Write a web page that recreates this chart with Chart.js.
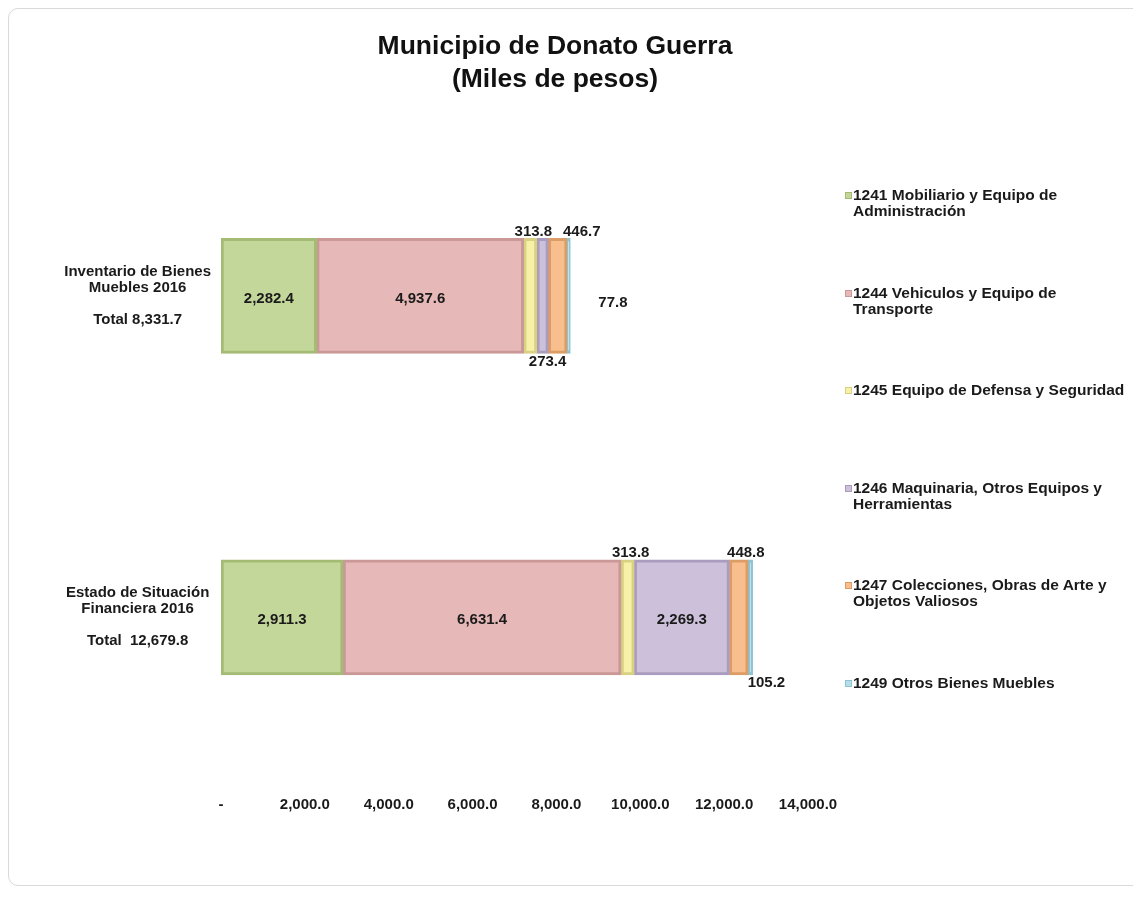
<!DOCTYPE html>
<html lang="es">
<head>
  <meta charset="UTF-8" />
  <title>Municipio de Donato Guerra</title>
  <script src="https://cdn.jsdelivr.net/npm/chart.js@4.4.0/dist/chart.umd.min.js"></script>
  <style>
    html, body { margin: 0; overflow: hidden; background: #fff; }
    body { font-family: "Liberation Sans", Arial, sans-serif; width: 1133px; height: 907px; position: relative; }
    #frame {
      position: absolute; left: 8px; top: 8px; width: 1160px; height: 876px;
      border: 1px solid #d9d9d9; border-radius: 10px;
    }
    #wrap { position: absolute; left: 0; top: 0; width: 1110px; height: 907px; }
    #legend { position: absolute; left: 845px; top: 0; }
    .item {
      position: absolute; left: 0;
      font-weight: bold; font-size: 15.5px; line-height: 16px; color: #1a1a1a;
      padding-left: 8px; white-space: nowrap;
    }
    .item i { position: absolute; left: 0; top: 5px; width: 5px; height: 5px; }
  </style>
</head>
<body>
  <div id="frame"></div>
  <div id="wrap"><canvas id="chart"></canvas></div>
  <div id="legend"></div>

  <script>
    const categories = [
      ['Inventario de Bienes', 'Muebles 2016', '', 'Total 8,331.7'],
      ['Estado de Situación', 'Financiera 2016', '', 'Total  12,679.8']
    ];
    const seriesNames = [
      '1241 Mobiliario y Equipo de\nAdministración',
      '1244 Vehiculos y Equipo de\nTransporte',
      '1245 Equipo de Defensa y Seguridad',
      '1246 Maquinaria, Otros Equipos y\nHerramientas',
      '1247 Colecciones, Obras de Arte y\nObjetos Valiosos',
      '1249 Otros Bienes Muebles'
    ];
    const mobiliario = [2282.4, 2911.3];
    const vehiculos = [4937.6, 6631.4];
    const defensa = [313.8, 313.8];
    const maquinaria = [273.4, 2269.3];
    const colecciones = [446.7, 448.8];
    const otros = [77.8, 105.2];
    const xTicks = [0, 2000, 4000, 6000, 8000, 10000, 12000, 14000];

    const fills = ['#c4d79b', '#e6b8b7', '#f6f1a6', '#ccc0da', '#f9be8e', '#b7dee8'];
    const edges = ['#a3bb72', '#c99897', '#d8d184', '#aa9cbe', '#dc9c66', '#8cc4d4'];
    // where each value label sits, per category then per series (dx nudges crowded labels)
    const placements = [
      [{ at: 'in' }, { at: 'in' }, { at: 'above', dx: 3 }, { at: 'below', dx: 5 }, { at: 'above', dx: 24 }, { at: 'right', dx: 28 }],
      [{ at: 'in' }, { at: 'in' }, { at: 'above', dx: 3 }, { at: 'in' }, { at: 'above', dx: 7 }, { at: 'below', dx: 16 }]
    ];

    const fmt = v => v.toLocaleString('en-US', { minimumFractionDigits: 1, maximumFractionDigits: 1 });
    const family = '"Liberation Sans", Arial, sans-serif';

    const valueLabels = {
      id: 'valueLabels',
      afterDatasetsDraw(chart) {
        const ctx = chart.ctx;
        ctx.save();
        ctx.font = 'bold 15px ' + family;
        ctx.fillStyle = '#1a1a1a';
        ctx.textBaseline = 'middle';
        chart.data.datasets.forEach((ds, di) => {
          chart.getDatasetMeta(di).data.forEach((bar, ci) => {
            const p = bar.getProps(['x', 'y', 'base', 'height'], true);
            const mid = (p.x + p.base) / 2;
            const top = p.y - p.height / 2, bottom = p.y + p.height / 2;
            const txt = fmt(ds.data[ci]);
            const pl = placements[ci][di];
            const dx = pl.dx || 0;
            ctx.textAlign = 'center';
            if (pl.at === 'in') ctx.fillText(txt, mid, p.y + 3);
            else if (pl.at === 'above') ctx.fillText(txt, mid + dx, top - 7);
            else if (pl.at === 'below') ctx.fillText(txt, mid + dx, bottom + 8);
            else { ctx.textAlign = 'left'; ctx.fillText(txt, p.x + dx, p.y + 7); }
          });
        });
        ctx.restore();
      }
    };

    const seriesValues = [mobiliario, vehiculos, defensa, maquinaria, colecciones, otros];

    new Chart(document.getElementById('chart'), {
      type: 'bar',
      data: {
        labels: categories,
        datasets: seriesValues.map((vals, i) => ({
          label: seriesNames[i].replace('\n', ' '),
          data: vals,
          backgroundColor: fills[i],
          borderColor: edges[i],
          borderWidth: 3,
          borderSkipped: false
        }))
      },
      options: {
        indexAxis: 'y',
        responsive: true,
        maintainAspectRatio: false,
        animation: false,
        barThickness: 115,
        layout: { padding: { left: 0, right: 0, bottom: 83 } },
        plugins: {
          legend: { display: false },
          tooltip: { enabled: false },
          title: {
            display: true,
            text: ['Municipio de Donato Guerra', '(Miles de pesos)'],
            color: '#111',
            font: { size: 26.5, weight: 'bold', family: family, lineHeight: 1.25 },
            padding: { top: 30, bottom: 39 }
          }
        },
        scales: {
          x: {
            stacked: true,
            min: 0,
            max: 14000,
            grid: { display: false },
            border: { display: false },
            afterBuildTicks: s => { s.ticks = xTicks.map(v => ({ value: v })); },
            ticks: {
              padding: 10,
              maxRotation: 0,
              autoSkip: false,
              color: '#1a1a1a',
              font: { size: 15, weight: 'bold', family: family },
              callback: v => v === 0 ? '-' : fmt(v)
            }
          },
          y: {
            stacked: true,
            grid: { display: false, drawTicks: false },
            border: { display: false },
            afterFit: s => { s.width = 221; },
            ticks: {
              crossAlign: 'center',
              padding: 10,
              color: '#1a1a1a',
              font: { size: 15, weight: 'bold', family: family, lineHeight: '16px' }
            }
          },
          // empty right-hand axis that keeps room for the legend
          side: {
            type: 'linear',
            position: 'right',
            grid: { display: false },
            border: { display: false },
            ticks: { display: false },
            afterFit: s => { s.width = 302; }
          }
        }
      },
      plugins: [valueLabels]
    });

    // legend on the right, one entry per series
    const legend = document.getElementById('legend');
    seriesNames.forEach((name, i) => {
      const d = document.createElement('div');
      d.className = 'item';
      d.style.top = (187 + 97.6 * i) + 'px';
      d.innerHTML = '<i style="background:' + fills[i] + ';border:1px solid ' + edges[i] + '"></i>' +
        name.split('\n').join('<br>');
      legend.appendChild(d);
    });
  </script>
</body>
</html>
